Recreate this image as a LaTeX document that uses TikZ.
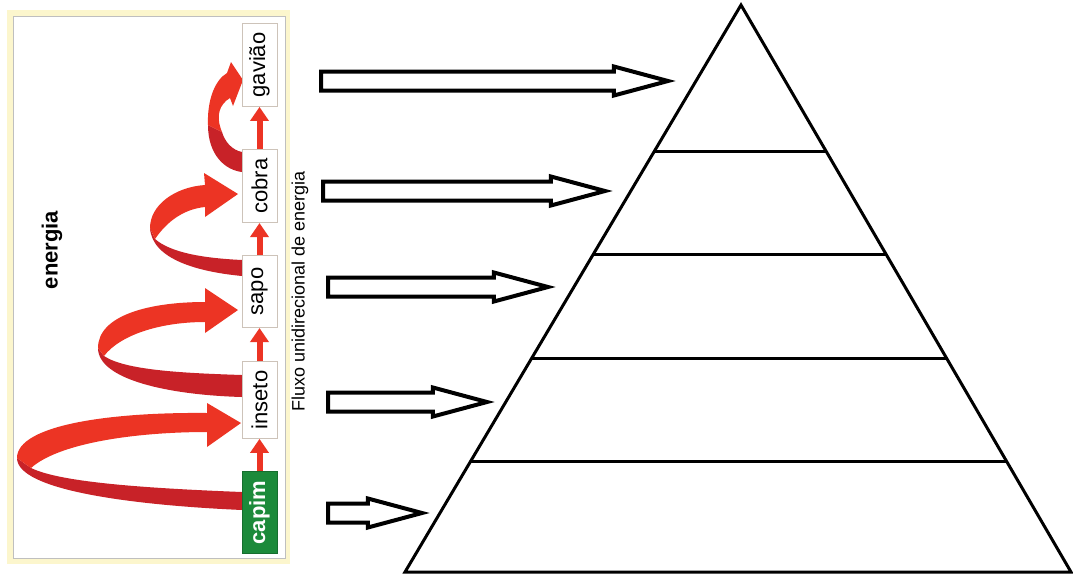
\documentclass[tikz,border=0pt]{standalone}
\usepackage{fontspec}
\setmainfont{Liberation Sans}
\usetikzlibrary{arrows.meta,shapes.arrows,calc}
\definecolor{ribbonred}{RGB}{236,52,36}
\definecolor{ribbondark}{RGB}{200,34,40}
\definecolor{capimgreen}{RGB}{28,138,58}
\definecolor{boxline}{RGB}{205,195,185}
\definecolor{panelyellow}{RGB}{252,246,205}
\newcommand{\boxfont}{\fontsize{22}{22}\selectfont}

\begin{document}
\begin{tikzpicture}[x=1pt,y=-1pt,
    level/.style={draw=boxline,fill=white,line width=1pt,rotate=90,
        minimum width=72pt,minimum height=35pt,inner xsep=9pt,font=\boxfont},
    producer/.style={fill=capimgreen,draw=capimgreen!80!black,text=white,font=\bfseries\boxfont},
    feed/.style={draw=ribbonred,line width=6pt,-{Triangle[length=14pt,width=18pt]}},
    hollow/.style={single arrow,draw=black,fill=white,line width=4pt,inner xsep=0pt,
        inner ysep=7.5pt,outer sep=0pt,single arrow head extend=5pt,
        single arrow tip angle=30,single arrow head indent=0pt,anchor=tail},
    pyr/.style={draw=black,line width=3pt}]
    \useasboundingbox (0,0) rectangle (1073,574);

    %Panel
    \fill[panelyellow] (7,10) rectangle (290,564);
    \draw[fill=white,draw=black!25,line width=1pt] (13,16) rectangle (285,558);

    %Ribbons: capim -> inseto
    \fill[ribbondark] (17,458) .. controls (17,490) and (130,505) .. (242,510) -- (242,492)
        .. controls (140,488) and (60,482) .. (31,468) -- cycle;
    \fill[ribbonred] (207,413) .. controls (110,412) and (17,425) .. (17,458) -- (31,468)
        .. controls (60,442) and (140,432) .. (207,432) -- (207,447) -- (241,423) -- (207,403) -- cycle;
    %inseto -> sapo
    \fill[ribbondark] (98,348) .. controls (98,380) and (170,395) .. (242,397) -- (242,375)
        .. controls (180,373) and (125,370) .. (104,356) -- cycle;
    \fill[ribbonred] (205,302) .. controls (150,302) and (98,315) .. (98,348) -- (104,356)
        .. controls (120,335) and (160,322) .. (205,322) -- (205,333) -- (238,310) -- (205,288) -- cycle;
    %sapo -> cobra
    \fill[ribbondark] (150,228) .. controls (152,260) and (200,272) .. (242,276) -- (242,260)
        .. controls (200,258) and (170,252) .. (155,239) -- cycle;
    \fill[ribbonred] (205,185) .. controls (175,187) and (150,205) .. (150,228) -- (155,239)
        .. controls (168,220) and (185,209) .. (205,207) -- (205,217) -- (238,194) -- (204,173) -- cycle;
    %cobra -> gaviao
    \fill[ribbondark] (208,125) .. controls (208,155) and (225,170) .. (242,172) -- (242,152)
        .. controls (232,150) and (225,142) .. (222,132) -- cycle;
    \fill[ribbonred] (208,125) .. controls (207,100) and (215,80) .. (227,73) -- (231,62) -- (243,80)
        -- (233,106) -- (230,98) .. controls (220,104) and (215,115) .. (222,132) -- cycle;

    %Food chain
    \node[level] (gaviao) at (259.5,65) {gavião};
    \node[level] (cobra) at (259.5,186) {cobra};
    \node[level] (sapo) at (259.5,291.5) {sapo};
    \node[level] (inseto) at (259.5,400) {inseto};
    \node[level,producer] (capim) at (259.5,512.5) {capim};
    \foreach \from/\to in {capim/inseto,inseto/sapo,sapo/cobra,cobra/gaviao}
        \draw[feed] (\from.east) -- (\to.west);

    \node[rotate=90,font=\bfseries\boxfont] (energia) at (52,250) {energia};
    \node[rotate=90,font=\fontsize{18}{18}\selectfont] (fluxo) at (300,291) {Fluxo unidirecional de energia};

    %Hollow arrows
    \node[hollow,minimum height=347pt] (h1) at (321,81) {};
    \node[hollow,minimum height=282pt] (h2) at (323,191) {};
    \node[hollow,minimum height=220pt] (h3) at (328,287) {};
    \node[hollow,minimum height=159pt] (h4) at (328,402) {};
    \node[hollow,minimum height=94pt] (h5) at (328,513) {};

    %Pyramid
    \coordinate (apex) at (741,5);
    \coordinate (baseL) at (405,572);
    \coordinate (baseR) at (1071,572);
    \draw[pyr] (apex) -- (baseL) -- (baseR) -- cycle;
    \foreach \lvl in {152,255,358,461}
        \draw[pyr] ($(apex)!{(\lvl-5)/567}!(baseL)$) -- ($(apex)!{(\lvl-5)/567}!(baseR)$);
\end{tikzpicture}
\end{document}
